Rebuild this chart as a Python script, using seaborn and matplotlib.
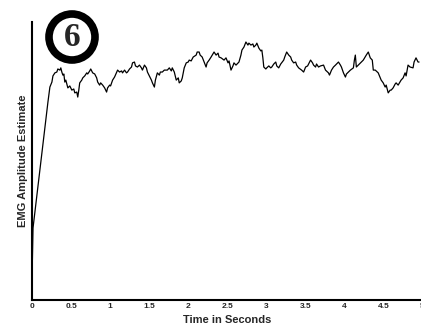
import matplotlib
matplotlib.use("Agg")
import matplotlib.pyplot as plt
import matplotlib.patches as mpatches
from matplotlib.ticker import FuncFormatter
import seaborn as sns
import pandas as pd

# EMG amplitude estimate (arbitrary units, 0-1)
time_s = [
    0.005, 0.013, 0.051, 0.102, 0.166, 0.204, 0.229, 0.255, 0.268, 0.293,
    0.318, 0.331, 0.357, 0.369, 0.382, 0.395, 0.408, 0.420, 0.433, 0.459,
    0.484, 0.510, 0.535, 0.548, 0.573, 0.586, 0.599, 0.611, 0.637, 0.650,
    0.675, 0.701, 0.713, 0.739, 0.752, 0.777, 0.803, 0.828, 0.841, 0.866,
    0.879, 0.905, 0.930, 0.955, 0.968, 0.994, 1.006, 1.032, 1.057, 1.096,
    1.121, 1.147, 1.159, 1.185, 1.210, 1.223, 1.249, 1.274, 1.287, 1.312,
    1.325, 1.350, 1.376, 1.401, 1.414, 1.440, 1.465, 1.478, 1.503, 1.529,
    1.542, 1.567, 1.580, 1.605, 1.631, 1.643, 1.669, 1.694, 1.733, 1.758,
    1.784, 1.796, 1.822, 1.847, 1.873, 1.885, 1.911, 1.924, 1.949, 1.975,
    2.000, 2.013, 2.038, 2.064, 2.102, 2.115, 2.140, 2.153, 2.179, 2.204,
    2.229, 2.242, 2.268, 2.293, 2.331, 2.357, 2.382, 2.395, 2.421, 2.459,
    2.484, 2.510, 2.523, 2.548, 2.573, 2.586, 2.612, 2.650, 2.675, 2.688,
    2.714, 2.739, 2.765, 2.777, 2.803, 2.828, 2.841, 2.866, 2.879, 2.905,
    2.930, 2.943, 2.956, 2.968, 2.994, 3.006, 3.032, 3.057, 3.070, 3.096,
    3.121, 3.134, 3.159, 3.185, 3.223, 3.236, 3.261, 3.287, 3.312, 3.325,
    3.350, 3.376, 3.389, 3.414, 3.452, 3.478, 3.503, 3.529, 3.567, 3.592,
    3.605, 3.631, 3.643, 3.669, 3.694, 3.733, 3.758, 3.796, 3.809, 3.835,
    3.860, 3.886, 3.924, 3.949, 3.962, 3.988, 4.013, 4.026, 4.051, 4.077,
    4.115, 4.128, 4.140, 4.153, 4.178, 4.217, 4.242, 4.280, 4.306, 4.331,
    4.357, 4.370, 4.395, 4.433, 4.459, 4.471, 4.497, 4.522, 4.535, 4.561,
    4.586, 4.599, 4.624, 4.650, 4.662, 4.688, 4.726, 4.752, 4.777, 4.790,
    4.815, 4.841, 4.879, 4.892, 4.917, 4.943, 4.956,
]
amplitude = [
    0.144, 0.259, 0.349, 0.468, 0.619, 0.712, 0.766, 0.784, 0.806, 0.817,
    0.820, 0.831, 0.827, 0.835, 0.820, 0.809, 0.813, 0.784, 0.791, 0.763,
    0.770, 0.755, 0.759, 0.745, 0.748, 0.730, 0.755, 0.781, 0.791, 0.799,
    0.806, 0.817, 0.813, 0.824, 0.831, 0.817, 0.813, 0.799, 0.784, 0.773,
    0.781, 0.773, 0.763, 0.748, 0.763, 0.773, 0.770, 0.791, 0.802, 0.827,
    0.820, 0.824, 0.817, 0.827, 0.817, 0.820, 0.831, 0.838, 0.853, 0.856,
    0.842, 0.838, 0.845, 0.835, 0.827, 0.845, 0.835, 0.820, 0.806, 0.791,
    0.781, 0.766, 0.791, 0.817, 0.809, 0.820, 0.820, 0.827, 0.827, 0.835,
    0.824, 0.835, 0.820, 0.791, 0.799, 0.781, 0.788, 0.799, 0.835, 0.853,
    0.856, 0.863, 0.860, 0.874, 0.881, 0.892, 0.892, 0.881, 0.874, 0.856,
    0.838, 0.853, 0.863, 0.874, 0.892, 0.881, 0.888, 0.874, 0.871, 0.863,
    0.871, 0.853, 0.860, 0.827, 0.842, 0.853, 0.845, 0.856, 0.881, 0.899,
    0.910, 0.928, 0.917, 0.924, 0.917, 0.921, 0.910, 0.917, 0.924, 0.906,
    0.896, 0.899, 0.871, 0.838, 0.831, 0.835, 0.842, 0.835, 0.838, 0.849,
    0.856, 0.842, 0.835, 0.849, 0.863, 0.874, 0.892, 0.881, 0.874, 0.863,
    0.853, 0.856, 0.845, 0.835, 0.827, 0.820, 0.838, 0.842, 0.863, 0.853,
    0.845, 0.838, 0.849, 0.838, 0.842, 0.845, 0.827, 0.817, 0.809, 0.827,
    0.838, 0.845, 0.856, 0.845, 0.838, 0.817, 0.802, 0.813, 0.820, 0.827,
    0.835, 0.863, 0.881, 0.838, 0.845, 0.856, 0.863, 0.881, 0.892, 0.871,
    0.863, 0.827, 0.827, 0.817, 0.799, 0.791, 0.781, 0.766, 0.773, 0.745,
    0.755, 0.755, 0.763, 0.777, 0.781, 0.773, 0.791, 0.799, 0.817, 0.806,
    0.845, 0.838, 0.835, 0.856, 0.871, 0.856, 0.856,
]
x_ticks = [0, 0.5, 1, 1.5, 2, 2.5, 3, 3.5, 4, 4.5, 5]

df = pd.DataFrame({"Time": time_s, "EMG": amplitude})

sns.set_style("white")
plt.rcParams["font.family"] = ["Liberation Sans", "DejaVu Sans"]

fig = plt.figure(figsize=(4.21, 3.25), dpi=100)
ax = fig.add_axes([32 / 421, 25 / 325, 390.5 / 421, 278 / 325])

sns.lineplot(data=df, x="Time", y="EMG", ax=ax, color="black",
             linewidth=0.9, sort=False)

ax.set_xlim(0, 5)
ax.set_ylim(0, 1)
ax.set_xticks(x_ticks)
ax.xaxis.set_major_formatter(FuncFormatter(lambda v, p: "%g" % v))
ax.set_yticks([])
ax.tick_params(axis="x", direction="in", length=3, width=1, pad=2,
               labelsize=6)
for lab in ax.get_xticklabels():
    lab.set_fontweight("bold")

for side in ["top", "right"]:
    ax.spines[side].set_visible(False)
for side in ["left", "bottom"]:
    ax.spines[side].set_color("black")
    ax.spines[side].set_linewidth(1.5)

ax.set_xlabel("Time in Seconds", fontsize=8, fontweight="bold")
ax.set_ylabel("EMG Amplitude Estimate", fontsize=8, fontweight="bold")
ax.xaxis.set_label_coords(0.5, -0.055)
ax.yaxis.set_label_coords(-0.01, 0.5)

# circled panel number
ring = mpatches.Ellipse((72 / 421, 1 - 37 / 325), 46 / 421, 46 / 325,
                        transform=fig.transFigure, fill=False,
                        edgecolor="black", linewidth=5.5)
fig.patches.append(ring)
fig.text(72 / 421, 1 - 38 / 325, "6", ha="center", va="center",
         fontsize=24, fontweight="bold", family="Liberation Serif")

fig.savefig("out.png", dpi=100)
